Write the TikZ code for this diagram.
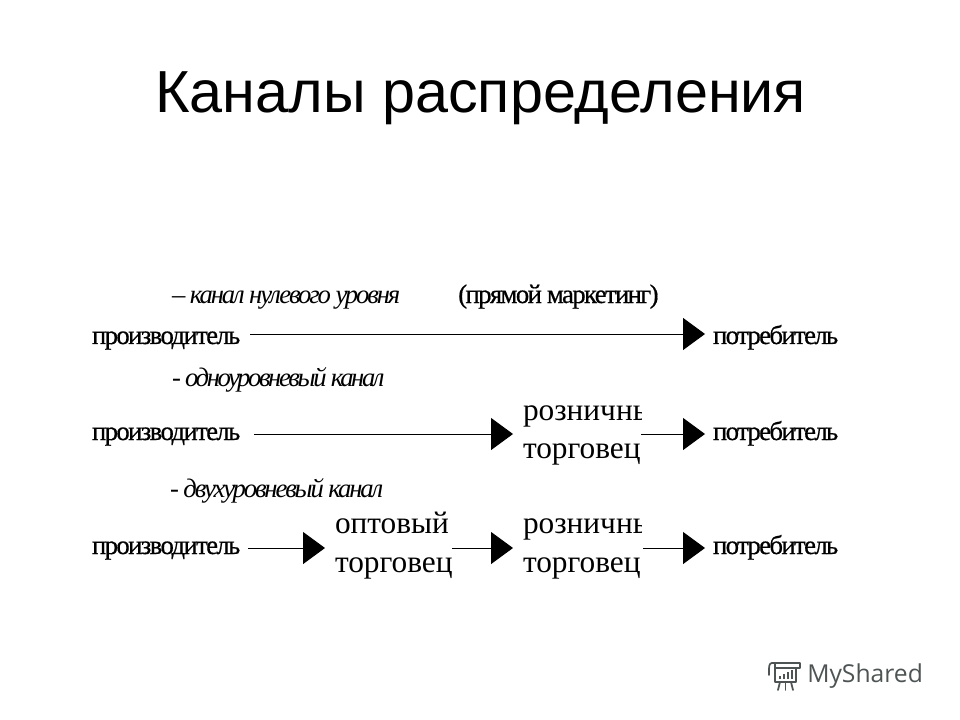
\documentclass[tikz,border=0pt]{standalone}
\usepackage{fontspec}
\usetikzlibrary{arrows.meta}
\setmainfont{Liberation Serif}
\newfontfamily\titlefont{Liberation Sans}
\newfontfamily\tightfont[LetterSpace=-6,FakeBold=0.6]{Liberation Serif}
\newfontfamily\slantfont[LetterSpace=-8,ItalicFont={Liberation Serif Italic}]{Liberation Serif}
\newfontfamily\slantfontb[LetterSpace=-9,ItalicFont={Liberation Serif Italic}]{Liberation Serif}
\newfontfamily\logofont{Open Sans}
\definecolor{logogray}{HTML}{4E5454}
% one line whose baseline lies #1 below the centre of the node, box #2 wide
\newcommand{\oneline}[3]{\makebox[#2][l]{\raisebox{-#1}[10pt][10pt]{\tightfont\fontsize{20}{24}\selectfont #3}}}
% two lines, baselines #1 above and #2 below the centre of the node, box #3 wide
\newcommand{\twolines}[5]{\makebox[#3][l]{\fontsize{23.5}{28}\selectfont\rlap{\raisebox{#1}[20pt][20pt]{#4}}\rlap{\raisebox{-#2}[0pt][0pt]{#5}}}}
\tikzset{
  lbl/.style={anchor=west,inner sep=0pt,outer sep=0pt},
  note/.style={anchor=base west,inner sep=0pt,outer sep=0pt,font=\slantfont\itshape\fontsize{20}{24}\selectfont},
  noteb/.style={note,font=\slantfontb\itshape\fontsize{20}{24}\selectfont},
  conn/.style={-{Triangle[length=16.5pt,width=24pt]},line width=.75pt,black},
  toStage/.style={conn,shorten >=7.5pt},
  toEnd/.style={conn,shorten >=6pt},
  logoline/.style={draw=logogray,line width=1.3pt,line cap=round,line join=round}
}
\begin{document}
\begin{tikzpicture}[x=.75pt,y=-.75pt]
\useasboundingbox (0,0) rectangle (960,720);
\node[anchor=base west,inner sep=0pt] (title) at (155,113) {\titlefont\fontsize{44.5}{52}\selectfont Каналы распределения};

\node[note] (n1) at (172,303) {– канал нулевого уровня};
\node[anchor=base west,inner sep=0pt] (n1b) at (458,303) {\tightfont\fontsize{20}{24}\selectfont (прямой маркетинг)};
\node[noteb] (n2) at (172,386) {- одноуровневый канал};
\node[note] (n3) at (170,497) {- двухуровневый канал};

% row 1
\node[lbl] (p1) at (92,334) {\oneline{7.5pt}{118.5pt}{производитель}};
\node[lbl] (e1) at (713,334) {\oneline{7.5pt}{93pt}{потребитель}};
\draw[toEnd] (p1) -- (e1);

% row 2
\node[lbl] (p2) at (92,434) {\oneline{4.5pt}{121.5pt}{производитель}};
\begin{scope}
  \clip (515,380) rectangle (641,490);
  \node[lbl] (r2) at (523,434) {\twolines{10.5pt}{18pt}{88.5pt}{розничный}{торговец}};
\end{scope}
\node[lbl] (e2) at (713,434) {\oneline{4.5pt}{93pt}{потребитель}};
\draw[toStage] (p2) -- (r2);
\draw[toEnd] (r2) -- (e2);

% row 3
\node[lbl] (p3) at (92,548) {\oneline{4.5pt}{117pt}{производитель}};
\node[lbl] (o3) at (335,548) {\twolines{11pt}{18pt}{87.75pt}{оптовый}{торговец}};
\begin{scope}
  \clip (515,500) rectangle (641,600);
  \node[lbl] (r3) at (523,548) {\twolines{11pt}{18pt}{90pt}{розничный}{торговец}};
\end{scope}
\node[lbl] (e3) at (713,548) {\oneline{4.5pt}{93pt}{потребитель}};
\draw[toStage] (p3) -- (o3);
\draw[toStage] (o3) -- (r3);
\draw[toEnd] (r3) -- (e3);

% logo
\node[anchor=base west,inner sep=0pt,text=logogray] (logo) at (807,682) {\logofont\fontsize{18.5}{22}\selectfont MyShared};
\draw[logoline] (772,663) -- (800,663) -- (800,668) -- (776,668);
\draw[logoline] (772,663) .. controls (769,663) and (769,667) .. (769,671) -- (769,675);
\draw[logoline] (775,663) -- (775,682) -- (796,682) -- (796,668);
\draw[logoline] (780,682) -- (778,690);
\draw[logoline] (785.5,682) -- (785.5,690);
\draw[logoline] (791,682) -- (793,690);
\fill[logogray] (779,676) rectangle (781,679);
\fill[logogray] (783,674) rectangle (785,679);
\fill[logogray] (787,672) rectangle (789,679);
\fill[logogray] (791,669.5) rectangle (793,679);
\end{tikzpicture}
\end{document}
